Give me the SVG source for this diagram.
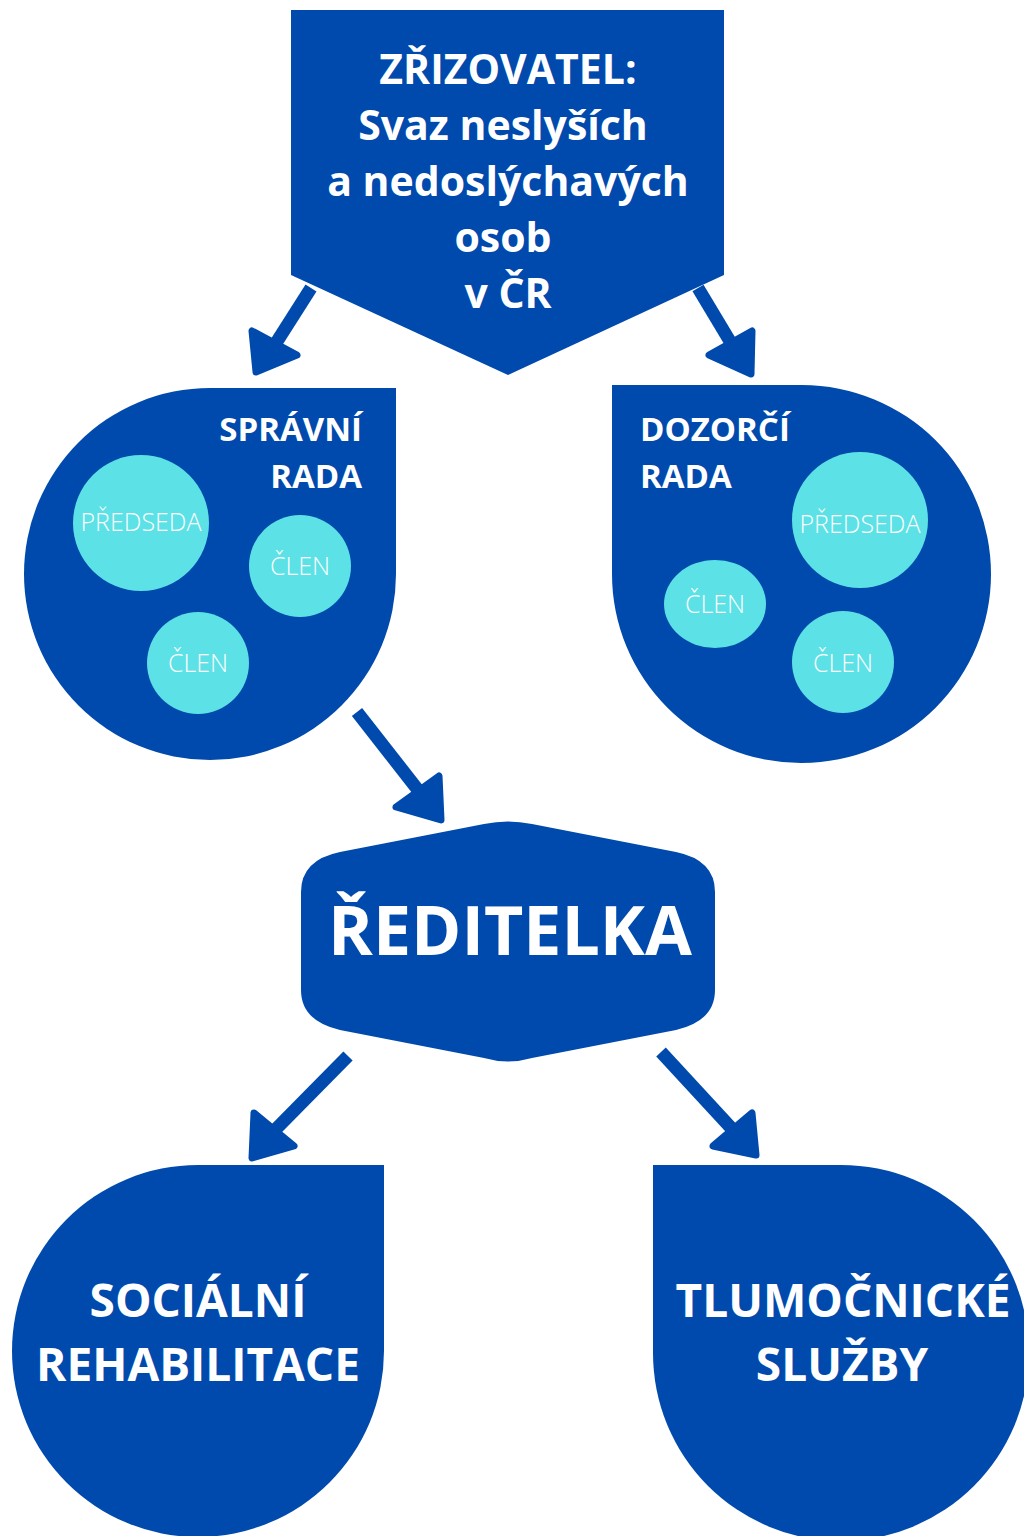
<svg xmlns="http://www.w3.org/2000/svg" width="1024" height="1536" viewBox="0 0 1024 1536">
<style>
.blue{fill:#004AAD}
.cyan{fill:#5CE1E6}
.t{font-family:"Open Sans","Liberation Sans",sans-serif;font-weight:700;fill:#FFFFFF}
.s{font-family:"Open Sans","Liberation Sans",sans-serif;font-weight:300;fill:#FFFFFF;font-size:25px;text-anchor:middle}
.shaft{stroke:#004AAD;stroke-width:13;fill:none}
.head{fill:#004AAD;stroke:#004AAD;stroke-width:7;stroke-linejoin:round}
</style>
<rect width="1024" height="1536" fill="#FFFFFF"/>
<g id="connectors">
<line class="shaft" x1="311" y1="288" x2="276" y2="343"/>
<polygon class="head" points="252,331 256,372 297,355"/>
<line class="shaft" x1="698" y1="288" x2="731" y2="343"/>
<polygon class="head" points="709,355 752,331 751,374"/>
<line class="shaft" x1="357" y1="712" x2="418" y2="790"/>
<polygon class="head" points="396,807 439,776 441,820"/>
<line class="shaft" x1="348" y1="1056" x2="275" y2="1130"/>
<polygon class="head" points="254,1113 294,1146 252,1158"/>
<line class="shaft" x1="661" y1="1052" x2="733" y2="1130"/>
<polygon class="head" points="713,1146 752,1113 756,1155"/>
</g>
<g id="zrizovatel">
<polygon class="blue" points="291,10 724,10 724,275 508,375 291,275"/>
<text class="t" font-size="41" text-anchor="middle" x="508"><tspan x="508" y="84">ZŘIZOVATEL:</tspan><tspan x="503" y="140">Svaz neslyších</tspan><tspan x="508" y="196">a nedoslýchavých</tspan><tspan x="503" y="252">osob</tspan><tspan x="508" y="308">v ČR</tspan></text>
</g>
<g id="spravni-rada">
<path class="blue" d="M396 388 L396 574 A186 186 0 0 1 210 760 A186 186 0 0 1 24 574 A186 186 0 0 1 210 388 Z"/>
<text class="t" font-size="33" text-anchor="end"><tspan x="362" y="441">SPRÁVNÍ</tspan><tspan x="362" y="488">RADA</tspan></text>
<circle class="cyan" cx="141" cy="523" r="68"/>
<text class="s" x="141" y="531">PŘEDSEDA</text>
<circle class="cyan" cx="300" cy="566" r="51"/>
<text class="s" x="300" y="575">ČLEN</text>
<circle class="cyan" cx="198" cy="663" r="51"/>
<text class="s" x="198" y="672">ČLEN</text>
</g>
<g id="dozorci-rada">
<path class="blue" d="M612 385 L802 385 A189 189 0 0 1 991 574 A189 189 0 0 1 802 763 A189 189 0 0 1 612 574 Z"/>
<text class="t" font-size="33"><tspan x="640" y="441">DOZORČÍ</tspan><tspan x="640" y="488">RADA</tspan></text>
<circle class="cyan" cx="860" cy="520" r="68"/>
<text class="s" x="860" y="533">PŘEDSEDA</text>
<ellipse class="cyan" cx="715" cy="604" rx="51" ry="44"/>
<text class="s" x="715" y="613">ČLEN</text>
<circle class="cyan" cx="843" cy="662" r="51"/>
<text class="s" x="843" y="672">ČLEN</text>
</g>
<g id="reditelka">
<path class="blue" d="M340 852 L484 824 Q508 819 532 824 L676 852 Q715 860 715 892 L715 990 Q715 1021 676 1030 L532 1058 Q508 1065 484 1058 L340 1030 Q301 1021 301 990 L301 892 Q301 860 340 852 Z"/>
<text class="t" font-size="68" text-anchor="middle" x="510" y="955">ŘEDITELKA</text>
</g>
<g id="socialni-rehabilitace">
<path class="blue" d="M384 1165 L384 1351 A186 186 0 0 1 198 1537 A186 186 0 0 1 12 1351 A186 186 0 0 1 198 1165 Z"/>
<text class="t" font-size="46" text-anchor="middle"><tspan x="198" y="1317">SOCIÁLNÍ</tspan><tspan x="198" y="1381">REHABILITACE</tspan></text>
</g>
<g id="tlumocnicke-sluzby">
<path class="blue" d="M653 1165 L841 1165 A188 188 0 0 1 1029 1353 A188 188 0 0 1 841 1541 A188 188 0 0 1 653 1353 Z"/>
<text class="t" font-size="46" text-anchor="middle"><tspan x="843" y="1317">TLUMOČNICKÉ</tspan><tspan x="842" y="1381">SLUŽBY</tspan></text>
</g>
</svg>
